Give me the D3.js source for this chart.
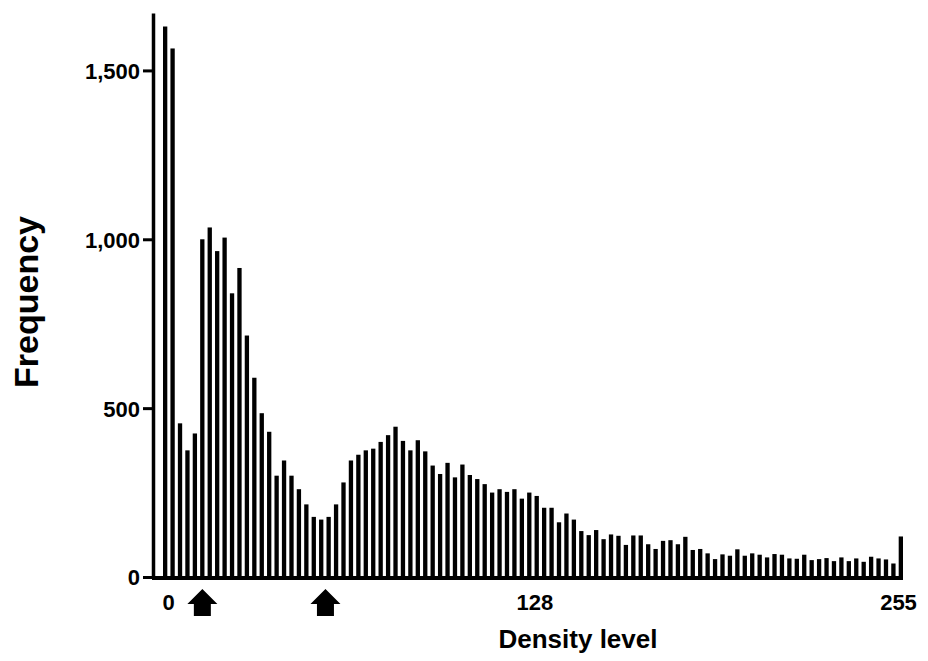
<!DOCTYPE html>
<html>
<head>
<meta charset="utf-8">
<script src="https://cdn.jsdelivr.net/npm/d3@7"></script>
<style>
    body { margin: 0; background: #fff; }
    svg text { font-family: "Liberation Sans", Arial, sans-serif; font-weight: bold; fill: #000; }
</style>
</head>
<body>
<div id="chart"></div>
<script>
const ctx = {
    W: 928,
    H: 661,
    LEFT: 153,
    BOTTOM: 577,
    TOP: 13,
};

// histogram frequencies, one per bin, from density level 0 up to 255
const frequencies = [
    1630, 1565, 455, 375, 425, 1000, 1035, 965, 1005, 840,
    915, 715, 590, 485, 430, 300, 345, 300, 260, 215,
    178, 170, 178, 215, 280, 345, 362, 375, 380, 400,
    420, 445, 403, 375, 405, 372, 330, 305, 338, 295,
    333, 302, 290, 275, 250, 260, 252, 260, 232, 250,
    240, 205, 205, 162, 188, 170, 136, 124, 139, 112,
    126, 122, 95, 123, 123, 97, 83, 107, 109, 97,
    119, 80, 83, 70, 53, 67, 63, 82, 63, 70,
    66, 58, 68, 66, 55, 54, 66, 50, 53, 56,
    47, 58, 47, 55, 45, 60, 55, 52, 40, 120
];

const yTicks = [0, 500, 1000, 1500];
const xTicks = [0, 128, 255];
const markedLevels = [12, 55];   // arrows under the axis
const yMax = 1670;

function createViz() {
    const svg = d3.select("#chart").append("svg")
                  .attr("width", ctx.W)
                  .attr("height", ctx.H);

    const xBand = d3.scaleBand()
                    .domain(d3.range(frequencies.length))
                    .range([163, 903])
                    .paddingInner(0.42);

    const xLevel = d3.scaleLinear().domain([0, 255]).range([168, 898]);

    const y = d3.scaleLinear().domain([0, yMax]).range([ctx.BOTTOM, ctx.TOP]);

    // bars
    svg.append("g")
       .selectAll("rect")
       .data(frequencies)
       .enter()
       .append("rect")
       .attr("x", (d, i) => xBand(i))
       .attr("width", xBand.bandwidth())
       .attr("y", d => y(d))
       .attr("height", d => y(0) - y(d))
       .style("fill", "#000");

    // y axis
    const yAxis = d3.axisLeft(y)
                    .tickValues(yTicks)
                    .tickFormat(d3.format(","))
                    .tickSize(10)
                    .tickPadding(3)
                    .tickSizeOuter(0);

    const gy = svg.append("g")
                  .attr("transform", `translate(${ctx.LEFT},0)`)
                  .call(yAxis);
    gy.select(".domain").attr("stroke-width", 3.5);
    gy.selectAll(".tick line").attr("stroke-width", 3);
    gy.selectAll(".tick text").style("font-size", "22px").attr("dy", "0.36em");

    // x axis: only the baseline and labels, no ticks
    const xAxis = d3.axisBottom(xLevel)
                    .tickValues(xTicks)
                    .tickSize(0)
                    .tickPadding(16)
                    .tickSizeOuter(0);

    const gx = svg.append("g")
                  .attr("transform", `translate(0,${ctx.BOTTOM + 1})`)
                  .call(xAxis);
    gx.select(".domain")
      .attr("d", `M${ctx.LEFT - 1},0H903`)
      .attr("stroke-width", 4);
    gx.selectAll(".tick text").style("font-size", "22px");

    // arrows marking two levels
    const arrow = "M0,0 L15,15 L8.5,15 L8.5,27 L-8.5,27 L-8.5,15 L-15,15 Z";
    svg.append("g")
       .selectAll("path")
       .data(markedLevels)
       .enter()
       .append("path")
       .attr("d", arrow)
       .attr("transform", d => `translate(${xLevel(d)},589)`)
       .style("fill", "#000");

    // axis titles
    svg.append("text")
       .attr("x", 578)
       .attr("y", 648)
       .attr("text-anchor", "middle")
       .style("font-size", "26px")
       .text("Density level");

    svg.append("text")
       .attr("transform", "translate(38,302) rotate(-90)")
       .attr("text-anchor", "middle")
       .style("font-size", "34px")
       .text("Frequency");
}

createViz();
</script>
</body>
</html>
